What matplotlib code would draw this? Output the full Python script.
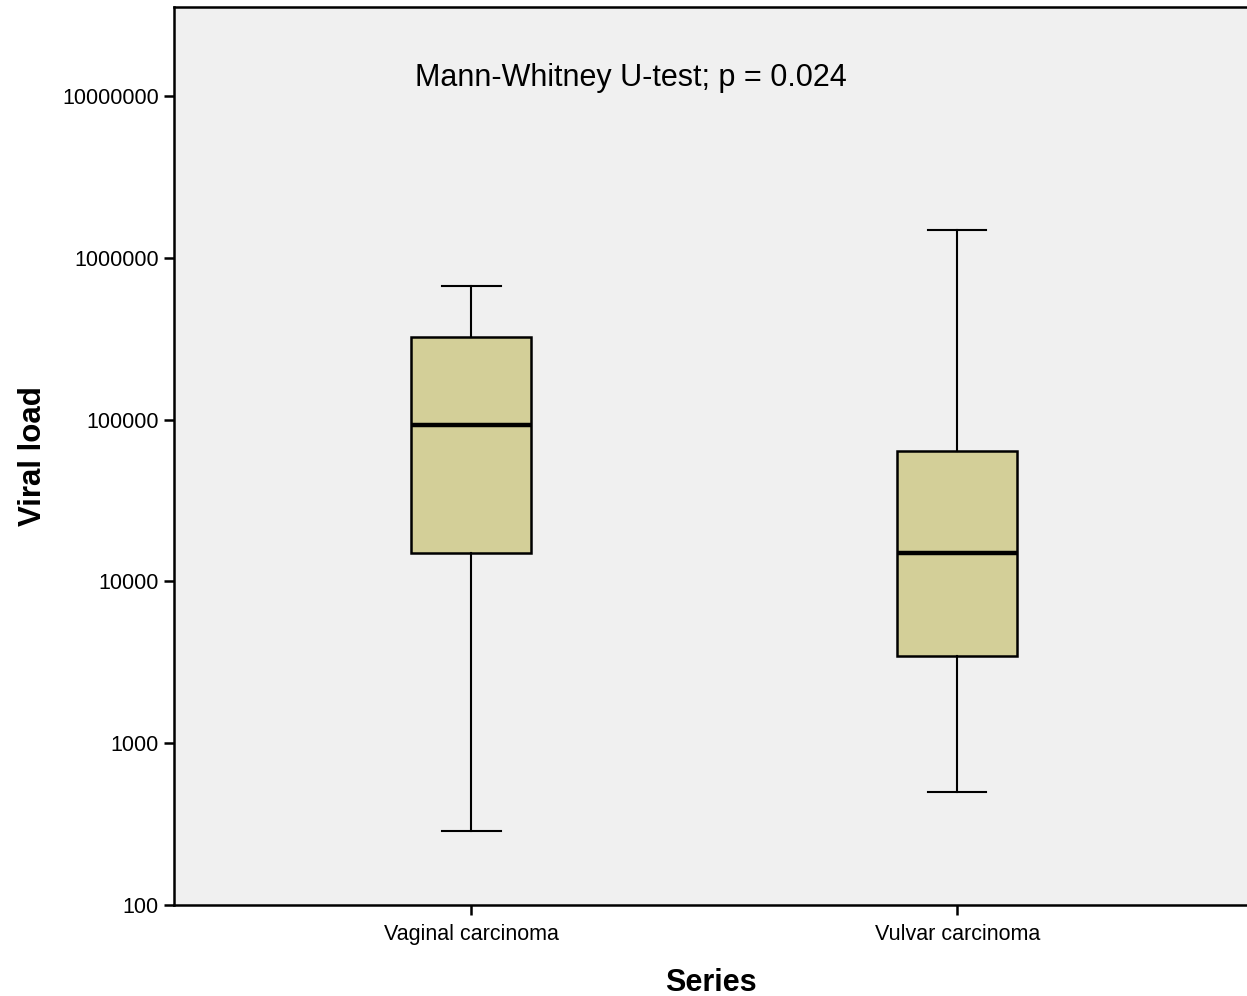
import matplotlib
matplotlib.use('Agg')
import matplotlib.pyplot as plt

plt.rcParams['font.family'] = ['Liberation Sans', 'DejaVu Sans']

# box summary values
groups = ['Vaginal carcinoma', 'Vulvar carcinoma']
whisk_lo = [285, 498]
q1 = [14900, 3480]
med = [93000, 14900]
q3 = [322000, 64000]
whisk_hi = [670000, 1490000]

fig = plt.figure(figsize=(12.47, 9.96), dpi=100)
ax = fig.add_axes([0.1395, 0.0914, 0.862, 0.9016])
ax.set_facecolor('#f0f0f0')

stats = []
for i in range(len(groups)):
    stats.append(dict(label=groups[i], whislo=whisk_lo[i], q1=q1[i], med=med[i],
                      q3=q3[i], whishi=whisk_hi[i], fliers=[]))

ax.bxp(stats, positions=[1, 2], widths=0.247, patch_artist=True, showfliers=False,
       boxprops=dict(facecolor='#d3cf98', edgecolor='black', linewidth=1.8),
       medianprops=dict(color='black', linewidth=3.2),
       whiskerprops=dict(color='black', linewidth=1.5),
       capprops=dict(color='black', linewidth=1.5), capwidths=0.12)

ax.set_yscale('log')
ax.set_ylim(100, 10 ** 7.55)
ax.set_xlim(0.388, 2.6)
ax.set_yticks([1e2, 1e3, 1e4, 1e5, 1e6, 1e7])
ax.set_yticklabels(['100', '1000', '10000', '100000', '1000000', '10000000'])
ax.minorticks_off()
ax.tick_params(axis='both', direction='out', length=7, width=1.8, labelsize=15.5)
ax.tick_params(axis='x', pad=7)
ax.tick_params(axis='y', pad=4)
for s in ['left', 'bottom', 'top']:
    ax.spines[s].set_linewidth(1.8)
ax.spines['right'].set_visible(False)

ax.set_xlabel('Series', fontsize=22, fontweight='bold', labelpad=16)
ax.set_ylabel('Viral load', fontsize=22.5, fontweight='bold', labelpad=10)

ax.text(0.425, 0.921, 'Mann-Whitney U-test; p = 0.024', transform=ax.transAxes,
        ha='center', va='center', fontsize=22)

fig.savefig('out.png', dpi=100)
